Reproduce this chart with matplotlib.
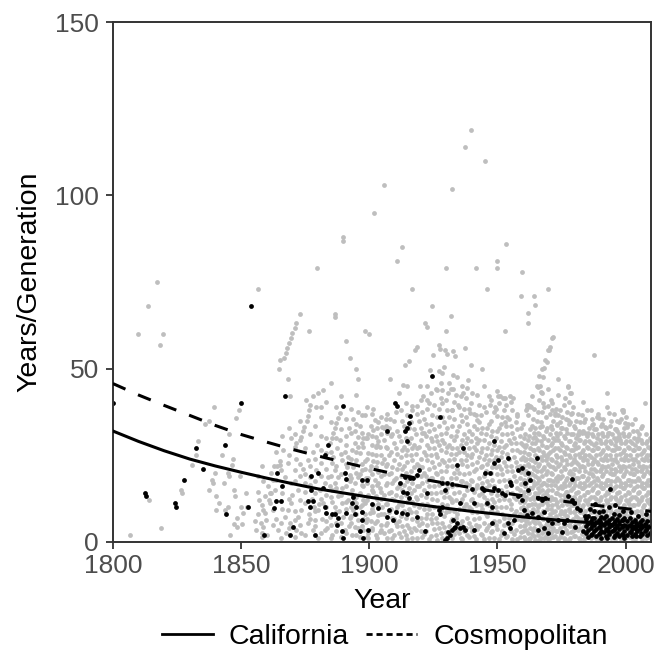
import matplotlib
matplotlib.use("Agg")
import matplotlib.pyplot as plt
from matplotlib.lines import Line2D

plt.rcParams['font.family'] = ['Liberation Sans', 'DejaVu Sans']

# ---- data ----
# sparse grey points (Cosmopolitan), (year, years/generation)
grey_sparse = [
    (1806.8, 2.0), (1809.9, 60.0), (1813.8, 68.0), (1813.9, 12.1), (1817.3, 75.0),
    (1818.4, 56.9), (1818.9, 4.0), (1819.6, 60.0), (1826.6, 15.0), (1826.8, 14.0),
    (1830.9, 22.1), (1832.4, 25.0), (1833.3, 29.0), (1835.9, 34.0), (1837.4, 35.0),
    (1837.5, 15.0), (1838.7, 18.0), (1838.9, 17.0), (1839.3, 38.9), (1839.8, 20.0),
    (1840.2, 9.1), (1840.4, 13.1), (1841.4, 11.1), (1842.4, 25.0), (1843.5, 17.1),
    (1843.8, 9.1), (1844.9, 10.0), (1845.0, 20.0), (1845.2, 19.0), (1845.4, 31.0),
    (1845.8, 2.0), (1846.6, 22.1), (1846.9, 24.0), (1847.3, 15.0), (1847.3, 5.1),
    (1847.5, 13.1), (1847.9, 35.9), (1848.6, 7.0), (1849.0, 38.0), (1849.5, 19.1),
    (1849.9, 10.0), (1850.5, 5.1), (1851.8, 14.1), (1856.5, 73.0), (1850.8, 8.4),
    (1852.2, 10.1), (1848.3, 4.3),
    (1879.6, 79.0), (1889.8, 88.0), (1889.8, 87.0), (1901.7, 95.0), (1905.6, 102.9),
    (1910.7, 81.0), (1912.8, 85.0), (1916.8, 73.0), (1929.8, 79.0), (1932.2, 101.9),
    (1937.2, 114.0), (1939.7, 119.0), (1941.8, 79.0), (1945.3, 110.0), (1945.8, 73.0),
    (1949.7, 81.0), (1949.7, 79.0), (1953.3, 86.0), (1959.4, 78.0), (1969.9, 73.0),
    # 1855-1905 streaks and scatter
    (1872.9, 65.9), (1886.8, 65.9), (1886.8, 64.9), (1871.6, 63.2), (1870.9, 61.7),
    (1870.0, 60.3), (1869.4, 58.8), (1868.7, 57.4), (1868.0, 55.9), (1867.4, 54.5),
    (1866.8, 53.1), (1876.5, 61.0), (1891.0, 58.0), (1898.3, 61.0), (1899.8, 60.0),
    (1892.4, 53.1), (1895.0, 50.0), (1895.7, 47.0), (1864.8, 50.0), (1868.3, 47.0),
    (1885.0, 46.0), (1865.2, 52.6), (1882.0, 43.9), (1880.0, 43.1), (1878.1, 42.0),
    (1869.0, 42.0), (1875.5, 41.0), (1879.4, 38.9), (1881.3, 38.9), (1876.5, 38.0),
    (1876.1, 36.2), (1875.9, 35.0), (1874.4, 33.3), (1874.2, 31.9), (1873.5, 30.4),
    (1872.9, 29.5), (1871.6, 28.5), (1870.9, 27.5), (1888.5, 37.2), (1887.9, 35.7),
    (1887.2, 34.3), (1886.6, 32.8), (1885.9, 31.4), (1885.3, 29.9), (1884.6, 28.5),
    (1883.3, 25.6),
    (1865.2, 23.2), (1863.9, 21.8), (1862.6, 17.9), (1861.3, 14.1), (1860.7, 12.1),
    (1859.4, 8.3), (1858.7, 4.4), (1858.1, 1.5),
    (1860.5, 16.0), (1861.8, 14.0), (1859.2, 13.1), (1863.1, 15.0), (1861.2, 11.1),
    (1858.6, 9.2), (1862.5, 9.2), (1859.9, 6.3), (1857.9, 5.4), (1856.0, 3.4),
    (1864.4, 3.4), (1865.7, 5.4), (1867.0, 7.3), (1868.3, 9.2), (1869.6, 11.1),
    (1869.0, 5.4), (1870.9, 6.3), (1872.2, 7.3), (1873.5, 9.2), (1874.8, 11.1),
    (1871.6, 3.4), (1873.5, 2.5), (1876.1, 5.4), (1878.7, 6.3), (1878.1, 3.4),
    (1880.0, 9.2), (1882.0, 11.1), (1880.7, 15.0), (1882.6, 16.9), (1883.9, 18.8),
    (1881.3, 22.7), (1879.4, 20.8), (1876.8, 18.8), (1874.8, 16.9), (1872.2, 15.0),
    (1869.6, 16.9), (1867.0, 18.8), (1865.7, 20.8), (1865.1, 22.2), (1868.3, 22.7),
    (1870.9, 20.8), (1885.3, 22.7), (1886.6, 20.8), (1887.9, 18.8), (1885.3, 15.0),
    (1887.9, 13.1), (1886.6, 10.2), (1889.2, 11.1), (1884.6, 7.3), (1887.2, 5.4),
    (1889.8, 7.3), (1890.5, 3.4), (1882.6, 3.4), (1885.3, 2.0), (1880.0, 1.0),
    (1865.7, 1.0),
    (1902.2, 35.2), (1903.5, 34.7), (1904.8, 33.3), (1901.5, 32.3), (1897.0, 31.4),
    (1895.7, 30.4), (1898.9, 29.9), (1902.8, 30.4), (1894.4, 28.5), (1897.6, 27.5),
    (1900.9, 28.0), (1904.1, 27.5), (1893.1, 26.6), (1896.3, 25.6), (1899.6, 25.6),
    (1902.8, 25.1), (1891.8, 24.6), (1895.0, 23.7), (1898.3, 23.2), (1901.5, 23.2),
    (1904.8, 22.7), (1893.7, 21.7), (1897.0, 20.8), (1900.2, 20.8), (1903.5, 20.3),
    (1892.4, 19.3), (1895.7, 18.8), (1898.9, 18.4), (1902.2, 17.9), (1894.4, 16.9),
    (1897.6, 16.0), (1900.9, 16.0), (1904.1, 15.5), (1893.1, 15.0), (1896.3, 14.0),
    (1899.6, 13.6), (1902.8, 13.1), (1891.8, 12.1), (1895.0, 11.1), (1898.3, 11.1),
    (1901.5, 10.7), (1904.8, 10.2), (1893.7, 9.2), (1897.0, 8.7), (1900.2, 8.3),
    (1903.5, 7.8), (1892.4, 6.8), (1895.7, 6.3), (1898.9, 5.8), (1902.2, 5.4),
    (1894.4, 4.4), (1897.6, 3.4), (1900.9, 3.4), (1904.1, 2.9), (1893.1, 2.0),
    (1896.3, 1.5), (1899.6, 1.0),
    (1877.5, 12.5), (1879.0, 14.0), (1880.5, 11.0), (1883.0, 13.5), (1884.5, 16.0),
    (1886.0, 24.5), (1887.5, 27.0), (1888.5, 29.5), (1889.5, 23.5), (1890.5, 26.0),
    (1891.0, 30.5), (1892.0, 33.0), (1893.5, 35.5), (1894.5, 32.0), (1895.5, 37.5),
    (1896.5, 33.5), (1897.5, 30.0), (1898.5, 36.5), (1899.5, 31.0), (1900.5, 33.5),
    (1901.5, 38.5), (1902.5, 27.5), (1903.5, 29.0), (1904.5, 36.0), (1891.5, 21.5),
    (1892.5, 17.5), (1893.5, 13.0), (1894.5, 22.5), (1895.5, 27.5), (1896.5, 19.5),
    (1897.5, 12.0), (1898.5, 21.0), (1899.5, 18.5), (1900.5, 22.0), (1901.5, 14.5),
    (1902.5, 21.5), (1903.5, 17.0), (1904.5, 12.5), (1891.0, 9.5), (1892.0, 4.5),
    (1893.0, 7.5), (1894.0, 12.5), (1895.5, 4.0), (1896.5, 10.0), (1897.5, 6.5),
    (1898.5, 8.0), (1899.5, 2.5), (1900.5, 6.0), (1901.5, 8.5), (1902.5, 2.0),
    (1903.5, 11.0), (1904.5, 5.0), (1874.0, 21.0), (1876.0, 23.5), (1878.0, 26.0),
    (1879.5, 28.0), (1881.0, 30.5), (1873.0, 19.0), (1871.5, 24.0), (1869.5, 30.0),
    (1866.5, 26.5), (1863.0, 22.0), (1861.5, 20.0), (1858.5, 17.5), (1857.0, 12.0),
    (1855.5, 6.0), (1860.0, 2.0), (1862.5, 5.0), (1867.5, 2.5), (1870.0, 13.5),
    (1876.5, 8.0), (1878.5, 10.0), (1881.5, 6.5), (1883.5, 4.0), (1885.5, 11.5),
    (1888.0, 9.0), (1889.5, 15.5), (1886.5, 17.0),
    # 1905-1958 upper
    (1924.4, 68.0), (1921.8, 63.2), (1922.4, 62.0), (1931.8, 65.1), (1929.8, 61.0),
    (1952.8, 61.0), (1917.9, 55.5), (1918.5, 56.4), (1927.0, 56.9), (1927.6, 55.7),
    (1929.6, 55.3), (1930.5, 54.3), (1932.8, 55.0), (1933.5, 53.8), (1937.4, 56.0),
    (1925.0, 54.0), (1915.3, 52.1), (1914.0, 51.1), (1923.7, 49.7), (1927.0, 49.2),
    (1928.3, 48.7), (1932.8, 48.2), (1908.1, 47.0), (1913.3, 45.3), (1914.6, 44.9),
    (1919.8, 44.9), (1922.4, 44.9), (1938.7, 46.8), (1911.4, 42.9), (1921.1, 42.0),
    (1926.3, 43.9), (1928.3, 43.9), (1930.9, 42.9), (1936.7, 42.9), (1951.1, 42.0),
    (1953.0, 41.5), (1955.0, 42.0), (1916.6, 39.1), (1918.5, 39.1), (1922.4, 41.0),
    (1928.3, 40.0), (1932.2, 38.1), (1934.8, 39.6), (1939.4, 37.2), (1947.2, 39.6),
    (1942.0, 35.2), (1949.8, 36.2), (1953.0, 34.7), (1957.6, 36.2), (1907.0, 37.0),
    (1908.0, 35.5), (1906.5, 33.5), (1944.0, 50.0), (1932.8, 44.0), (1949.0, 39.0),
    (1950.4, 42.0), (1952.3, 41.6), (1956.2, 41.6),
    # 1958-2010 upper
    (1964.1, 70.9), (1964.7, 68.5), (1962.1, 66.1), (1961.8, 63.2), (1971.2, 58.8),
    (1970.6, 56.2), (1969.9, 55.3), (1987.5, 54.0), (1968.6, 52.6), (1967.3, 50.0),
    (1973.8, 47.0), (1966.3, 48.0), (1977.7, 44.9), (1978.4, 42.9), (1965.4, 44.9),
    (1966.7, 44.9), (1967.3, 42.9), (1992.7, 42.9), (1963.4, 42.0), (1962.1, 39.6),
    (1961.5, 38.6), (1962.8, 39.1), (1969.9, 39.1), (1971.2, 38.1), (1972.5, 37.2),
    (1998.6, 38.1), (1993.4, 37.2), (1989.5, 35.7), (1979.0, 37.2), (1977.7, 35.2),
    (1974.5, 34.7), (1973.2, 33.8), (1986.8, 33.8), (1992.1, 33.3), (1993.4, 31.4),
    (1996.6, 31.9), (1997.3, 30.4), (2000.5, 33.3), (1999.9, 34.3), (1984.2, 31.4),
    (1981.6, 30.9), (1964.7, 30.4), (1966.7, 33.3), (1959.0, 71.0), (1971.5, 59.0),
    (1970.0, 55.5), (1969.5, 52.0), (1968.0, 50.3), (1967.6, 47.7), (1966.0, 44.8),
    (1966.8, 43.4), (1977.7, 44.8), (1978.5, 43.0), (1961.7, 39.6), (1962.9, 39.0),
    (1998.8, 38.0), (2007.7, 40.0),
]

# dense grey columns: (year, [values])
grey_early_cols = [
    (1856.5, [8.0, 14.5, 19.0]), (1858.0, [2.5, 10.5, 22.0]), (1863.5, [6.5, 18.0, 26.0]),
    (1866.0, [9.5, 14.0, 30.5]), (1868.5, [4.0, 12.5, 25.0, 33.0]),
    (1871.0, [1.5, 9.0, 17.5, 31.0]), (1873.0, [5.0, 12.0, 22.5, 35.0]),
    (1875.0, [2.0, 14.5, 19.5, 27.0]), (1877.0, [6.5, 16.5, 22.0, 31.0, 39.5]),
    (1879.0, [4.5, 9.0, 17.5, 24.0, 33.5]), (1881.0, [2.5, 12.5, 19.0, 26.5, 36.0]),
    (1883.0, [6.0, 10.0, 21.0, 30.0, 40.5]), (1885.0, [1.0, 5.0, 13.0, 19.0, 26.0, 34.5]),
    (1887.0, [3.0, 8.5, 15.5, 22.0, 30.0, 39.0]),
    (1889.0, [1.5, 5.5, 13.5, 19.5, 25.5, 32.5, 42.0]),
    (1891.0, [2.5, 11.5, 16.0, 22.5, 28.0, 35.5]),
    (1893.0, [5.5, 10.0, 18.5, 24.0, 31.5, 38.5]),
    (1895.0, [2.0, 8.0, 13.0, 20.0, 26.0, 34.0, 42.5]),
    (1897.0, [4.5, 10.5, 16.5, 22.5, 28.5, 36.5]),
    (1899.0, [1.5, 6.5, 12.0, 17.0, 24.0, 30.0, 39.0]),
    (1901.0, [4.0, 9.5, 15.0, 19.5, 25.5, 30.5, 37.0]),
    (1903.0, [1.0, 6.0, 12.5, 16.5, 23.0, 28.0, 33.0]),
    (1904.5, [3.5, 8.0, 14.5, 19.0, 25.0, 31.0]),
]

grey_mid_cols = [
    (1905.8, [2.5, 8.0, 13.5, 19.5, 24.0, 29.5, 33.0]),
    (1906.4, [5.0, 11.0, 16.5, 22.0, 27.5, 35.5]),
    (1907.0, [1.0, 5.5, 11.0, 17.0, 22.5, 27.0, 31.5]),
    (1907.7, [3.0, 8.5, 14.0, 19.5, 25.0, 33.0]),
    (1908.3, [3.5, 9.5, 14.5, 20.0, 26.0, 30.5]),
    (1909.0, [1.0, 7.0, 12.5, 17.0, 21.5, 31.0]),
    (1909.6, [2.0, 6.5, 12.0, 18.0, 23.5, 28.5, 35.0]),
    (1910.3, [5.5, 9.0, 13.5, 18.5, 27.0, 37.5]),
    (1910.9, [4.5, 10.0, 15.5, 21.0, 25.5, 32.0]),
    (1911.6, [2.5, 6.0, 11.0, 16.0, 22.5, 30.5]),
    (1912.2, [1.5, 7.5, 13.0, 19.0, 24.5, 29.0, 38.0]),
    (1912.9, [4.5, 10.5, 15.0, 21.0, 26.5, 35.0]),
    (1913.5, [3.0, 9.0, 16.5, 22.0, 27.5, 33.5]),
    (1914.2, [2.0, 7.0, 13.5, 20.0, 25.0, 30.0, 40.0]),
    (1914.8, [0.8, 5.0, 11.5, 17.5, 23.0, 26.5, 36.5]),
    (1915.5, [4.0, 9.5, 15.5, 19.0, 28.5, 33.0]),
    (1916.1, [2.8, 8.5, 14.0, 20.5, 25.0, 30.0, 34.5]),
    (1916.8, [1.0, 6.5, 11.5, 17.0, 23.5, 27.0, 38.0]),
    (1917.4, [4.0, 10.5, 15.0, 21.5, 28.0, 32.5]),
    (1918.1, [3.5, 8.5, 13.0, 19.0, 25.5, 31.0]),
    (1918.7, [1.2, 6.0, 12.5, 16.0, 22.5, 27.0, 37.0]),
    (1919.4, [5.0, 10.0, 16.0, 22.0, 27.5, 35.0]),
    (1920.0, [3.2, 7.0, 13.5, 19.0, 24.0, 29.5, 33.0, 41.0]),
    (1920.7, [1.5, 5.5, 11.0, 17.0, 21.5, 31.5, 37.5]),
    (1921.3, [2.2, 9.5, 15.0, 20.0, 26.0, 31.5, 35.5]),
    (1922.0, [3.0, 7.0, 13.0, 19.0, 25.0, 30.5, 34.0]),
    (1922.6, [4.8, 8.0, 11.0, 17.5, 23.5, 28.0, 38.5]),
    (1923.3, [0.9, 9.5, 16.0, 21.0, 27.0, 32.0, 40.0]),
    (1923.9, [1.8, 6.5, 14.0, 18.5, 25.0, 30.0, 34.0, 43.0]),
    (1924.6, [5.5, 8.0, 12.5, 18.5, 23.0, 29.0, 36.5]),
    (1925.2, [3.6, 10.0, 16.0, 21.5, 27.0, 32.5, 39.5]),
    (1925.9, [2.0, 7.0, 14.0, 20.0, 25.5, 30.5, 44.0]),
    (1926.5, [0.6, 5.5, 12.0, 19.5, 24.5, 29.0, 36.0]),
    (1927.2, [4.0, 10.0, 16.5, 22.5, 28.0, 33.5, 38.5]),
    (1927.8, [2.6, 8.8, 14.5, 20.5, 26.5, 31.0, 41.5, 46.0]),
    (1928.5, [1.0, 5.5, 11.0, 18.5, 23.5, 29.5, 36.0]),
    (1929.1, [4.2, 7.5, 13.0, 17.0, 23.0, 28.5, 34.5, 50.5]),
    (1929.8, [2.8, 8.5, 14.5, 20.5, 26.0, 31.5, 41.0]),
    (1930.4, [1.4, 10.5, 15.5, 22.0, 27.5, 33.0, 38.0]),
    (1931.1, [4.6, 9.0, 13.0, 17.0, 23.5, 28.0, 36.0, 46.0]),
    (1931.7, [3.4, 6.0, 12.5, 18.5, 25.5, 30.5, 44.0]),
    (1932.4, [1.2, 6.5, 11.5, 16.0, 22.0, 27.0, 33.5, 38.0]),
    (1933.0, [2.4, 9.0, 14.0, 20.0, 24.0, 29.5, 35.5, 40.5]),
    (1933.7, [3.5, 7.0, 12.0, 18.5, 25.5, 30.5, 42.5]),
    (1934.3, [4.6, 8.0, 16.5, 21.0, 27.0, 32.0, 47.5]),
    (1935.0, [2.5, 9.5, 14.5, 20.0, 26.0, 33.5, 39.0]),
    (1935.6, [1.0, 5.0, 11.5, 17.5, 23.5, 28.0, 36.5, 42.0]),
    (1936.3, [0.8, 6.0, 12.5, 17.5, 22.5, 29.5, 35.0, 45.0]),
    (1936.9, [3.0, 10.0, 13.5, 19.5, 26.0, 31.0, 38.5]),
    (1937.6, [4.0, 11.0, 17.0, 23.5, 28.5, 36.0, 41.5]),
    (1938.2, [2.0, 7.0, 15.0, 22.0, 25.0, 30.0, 34.0, 44.5]),
    (1938.9, [1.5, 5.5, 10.0, 16.5, 20.0, 27.0, 32.0, 38.5]),
    (1939.5, [4.4, 9.5, 12.0, 18.0, 24.5, 29.0, 40.0, 51.0]),
    (1940.2, [3.0, 8.5, 12.5, 17.5, 22.5, 25.5, 31.0, 43.0]),
    (1940.8, [1.6, 6.5, 14.5, 20.5, 27.5, 33.5, 37.0]),
    (1941.5, [0.8, 5.0, 10.5, 15.5, 21.0, 26.5, 30.0, 36.5]),
    (1942.1, [3.8, 8.5, 11.0, 16.5, 23.0, 28.5, 32.5, 42.5]),
    (1942.8, [4.5, 7.0, 13.5, 18.5, 24.5, 29.5, 34.5, 39.5]),
    (1943.4, [2.2, 10.5, 15.5, 21.5, 26.0, 31.5, 36.5]),
    (1944.1, [2.0, 9.5, 14.0, 17.0, 22.0, 27.0, 33.0]),
    (1944.7, [0.8, 5.5, 13.0, 19.0, 24.0, 29.5, 39.0, 45.0]),
    (1945.4, [3.5, 8.0, 11.0, 15.5, 20.5, 25.0, 31.0, 37.5]),
    (1946.0, [4.0, 7.5, 12.0, 17.5, 22.5, 27.0, 33.0]),
    (1946.7, [1.0, 5.0, 10.5, 16.5, 23.5, 28.5, 34.0, 42.0]),
    (1947.3, [2.8, 9.0, 14.0, 20.0, 25.5, 30.5, 35.0, 41.0]),
    (1948.0, [3.0, 8.5, 12.5, 18.0, 21.5, 26.5, 32.0]),
    (1948.6, [1.2, 6.0, 11.5, 16.0, 23.5, 28.0, 37.5]),
    (1949.3, [5.0, 10.0, 15.0, 21.5, 24.5, 30.0, 38.5]),
    (1949.9, [3.6, 8.5, 13.5, 19.5, 26.5, 32.0, 43.5]),
    (1950.6, [0.9, 6.0, 12.0, 17.5, 22.0, 27.5, 33.0, 40.0]),
    (1951.2, [2.0, 10.0, 15.0, 21.0, 24.5, 29.0, 34.0]),
    (1951.9, [3.0, 8.0, 13.5, 19.5, 26.0, 31.0, 36.0]),
    (1952.5, [4.8, 7.0, 12.5, 18.0, 23.0, 27.5, 38.0]),
    (1953.2, [1.5, 10.0, 16.0, 22.0, 28.0, 33.5, 39.5]),
    (1953.8, [1.6, 5.5, 14.5, 20.5, 25.5, 31.0, 36.0]),
    (1954.5, [4.5, 7.0, 12.0, 18.0, 24.0, 29.5, 35.5]),
    (1955.1, [3.2, 9.5, 11.0, 17.0, 22.0, 28.5, 33.5, 40.5]),
    (1955.8, [0.7, 5.5, 14.0, 20.5, 26.5, 31.5, 38.0]),
    (1956.4, [2.4, 8.0, 13.0, 19.0, 24.5, 30.0]),
    (1957.1, [3.5, 9.0, 12.5, 17.5, 23.0, 28.5, 34.5]),
    (1957.7, [0.9, 6.5, 15.5, 21.5, 26.5, 32.5, 37.0]),
]

grey_late_cols = [
    (1958.8, [1.5, 4.5, 8.0, 11.5, 15.0, 18.5, 22.0, 26.0, 30.5]),
    (1959.3, [2.8, 6.3, 9.8, 13.3, 16.8, 20.3, 24.0, 28.5, 33.0]),
    (1959.8, [3.0, 6.5, 10.0, 13.5, 17.0, 21.0, 24.5, 28.0, 34.0]),
    (1960.3, [1.5, 4.5, 7.8, 11.5, 14.5, 18.0, 21.8, 26.0, 30.0]),
    (1960.8, [0.8, 5.0, 9.0, 12.0, 16.0, 19.5, 23.5, 27.5, 31.0]),
    (1961.3, [3.5, 6.0, 9.5, 13.0, 17.0, 20.5, 24.0, 28.0, 38.0]),
    (1961.8, [2.5, 7.0, 10.5, 14.5, 18.0, 22.5, 25.5, 29.5, 36.5]),
    (1962.3, [0.9, 5.5, 10.5, 14.0, 18.5, 22.0, 25.5, 30.5]),
    (1962.8, [1.2, 4.0, 8.5, 12.5, 15.5, 20.0, 24.0, 27.0, 32.5]),
    (1963.3, [2.3, 7.5, 11.0, 15.5, 19.5, 23.5, 28.5, 33.5]),
    (1963.8, [3.5, 6.0, 9.5, 13.0, 17.5, 21.5, 26.5, 30.0, 35.5]),
    (1964.3, [1.6, 4.0, 8.5, 12.5, 16.5, 21.0, 26.5, 31.5, 38.5]),
    (1964.8, [0.6, 5.5, 11.0, 14.0, 19.0, 23.0, 25.0, 28.5, 33.0]),
    (1965.3, [3.0, 6.5, 9.0, 13.5, 17.0, 20.5, 24.5, 29.5, 35.0]),
    (1965.8, [2.0, 7.5, 10.0, 15.5, 18.5, 22.0, 27.0, 31.5, 37.5]),
    (1966.3, [0.6, 5.5, 10.5, 14.5, 18.0, 22.5, 26.5, 31.0, 41.0]),
    (1966.8, [1.0, 4.5, 8.0, 12.0, 16.5, 20.5, 24.5, 29.0, 34.5]),
    (1967.3, [2.5, 7.0, 11.0, 15.0, 19.0, 23.5, 28.0, 33.5, 37.5]),
    (1967.8, [3.2, 6.5, 9.0, 13.5, 17.0, 21.0, 26.0, 30.5, 40.0]),
    (1968.3, [1.2, 3.8, 8.5, 13.0, 17.0, 21.5, 25.0, 30.0, 39.0]),
    (1968.8, [1.8, 5.0, 11.5, 14.5, 19.5, 23.5, 27.5, 32.0, 36.0]),
    (1969.3, [2.8, 5.5, 9.5, 13.5, 16.5, 20.5, 24.5, 27.5, 33.0]),
    (1969.8, [0.7, 3.5, 7.0, 10.5, 15.0, 18.0, 22.5, 25.5, 29.5, 44.0]),
    (1970.3, [1.0, 4.5, 8.0, 12.0, 18.0, 22.0, 26.0, 31.0, 37.0]),
    (1970.8, [2.6, 6.0, 9.5, 13.0, 16.5, 20.0, 24.0, 28.0, 33.5, 41.0]),
    (1971.3, [3.0, 7.0, 10.5, 15.0, 19.5, 23.5, 28.5, 32.5, 40.0]),
    (1971.8, [1.4, 4.0, 8.5, 12.5, 17.5, 21.5, 26.5, 30.0, 35.0]),
    (1972.3, [1.8, 5.5, 9.0, 12.5, 16.5, 21.0, 27.0, 29.5, 36.5]),
    (1972.8, [3.0, 7.5, 11.0, 14.0, 18.5, 23.0, 25.0, 31.5, 38.5]),
    (1973.3, [3.2, 6.5, 11.5, 14.0, 17.5, 24.5, 30.5, 34.0]),
    (1973.8, [0.9, 5.5, 10.0, 15.5, 19.0, 22.0, 27.0, 29.5, 36.5, 42.5]),
    (1974.3, [1.4, 4.0, 8.0, 13.5, 18.5, 22.5, 26.5, 31.5, 38.0]),
    (1974.8, [2.2, 6.5, 9.0, 12.0, 16.0, 20.5, 24.5, 28.5, 33.0]),
    (1975.3, [2.8, 6.5, 10.5, 15.5, 19.0, 23.5, 28.0, 33.0, 36.0]),
    (1975.8, [1.1, 4.5, 8.0, 13.5, 17.0, 21.5, 26.0, 30.5, 39.5]),
    (1976.3, [0.8, 5.0, 9.0, 12.5, 16.0, 21.0, 25.5, 30.0, 41.5]),
    (1976.8, [3.4, 7.0, 11.5, 14.5, 18.0, 23.5, 27.5, 32.5, 35.5]),
    (1977.3, [2.5, 7.5, 11.0, 14.5, 18.5, 22.5, 27.0, 31.5, 37.5]),
    (1977.8, [0.5, 5.0, 9.5, 12.5, 16.5, 20.0, 25.0, 29.0, 34.0, 40.5]),
    (1978.3, [1.2, 4.5, 8.5, 13.0, 17.0, 20.5, 24.5, 29.0, 34.5]),
    (1978.8, [2.8, 6.0, 10.5, 15.0, 19.5, 22.5, 26.5, 31.0, 37.0]),
    (1979.3, [3.0, 6.5, 10.5, 15.5, 19.5, 23.0, 26.5, 31.0, 39.0]),
    (1979.8, [1.6, 4.0, 8.5, 13.0, 17.5, 21.0, 24.0, 28.0, 33.5]),
    (1980.3, [1.8, 5.0, 9.0, 12.5, 16.5, 21.0, 25.0, 28.5, 33.0]),
    (1980.8, [3.6, 7.5, 11.0, 14.0, 18.5, 23.0, 27.0, 30.0, 35.0]),
    (1981.3, [3.4, 7.0, 11.0, 14.5, 18.5, 22.5, 27.5, 31.0, 37.0]),
    (1981.8, [1.0, 5.5, 9.0, 12.0, 16.0, 20.5, 25.5, 29.5, 32.0]),
    (1982.3, [0.9, 4.0, 8.5, 13.0, 17.0, 21.5, 24.5, 29.5, 34.5]),
    (1982.8, [2.4, 6.5, 10.0, 15.5, 19.0, 22.0, 26.0, 31.5, 36.5]),
    (1983.3, [2.6, 6.0, 10.5, 15.5, 19.0, 23.5, 26.5, 32.0, 40.5]),
    (1983.8, [0.8, 4.5, 8.0, 13.5, 17.0, 21.5, 24.5, 28.5, 34.5]),
    (1984.3, [1.5, 5.5, 9.0, 12.0, 16.0, 20.5, 25.0, 29.0, 35.5]),
    (1984.8, [3.0, 7.0, 11.5, 14.5, 18.0, 23.5, 27.5, 30.5, 38.0]),
    (1985.3, [3.0, 7.5, 11.0, 14.5, 18.5, 22.5, 27.0, 31.5]),
    (1985.8, [1.3, 5.0, 9.5, 12.5, 16.5, 20.0, 25.0, 29.0, 33.0]),
    (1986.3, [1.0, 4.5, 8.5, 13.0, 17.0, 21.0, 24.5, 28.5, 38.0]),
    (1986.8, [2.6, 6.0, 10.5, 15.0, 19.5, 22.5, 26.5, 31.0, 35.5]),
    (1987.3, [2.4, 6.5, 10.5, 15.5, 19.0, 23.0, 26.5, 30.5, 34.0]),
    (1987.8, [1.7, 4.0, 8.5, 13.0, 17.5, 21.0, 24.0, 28.0, 32.5]),
    (1988.3, [1.2, 5.0, 9.0, 12.5, 16.5, 20.5, 25.0, 28.5, 32.5]),
    (1988.8, [3.3, 7.5, 11.0, 14.0, 18.5, 23.0, 27.0, 30.0, 36.0]),
    (1989.3, [3.2, 7.0, 11.0, 14.5, 18.0, 22.5, 27.0, 31.0, 37.0]),
    (1989.8, [0.9, 5.5, 9.0, 12.0, 16.0, 20.5, 25.5, 29.5]),
    (1990.3, [0.8, 4.0, 8.0, 13.0, 17.0, 21.0, 24.0, 28.5, 33.5]),
    (1990.8, [2.2, 6.5, 10.0, 15.5, 19.0, 22.0, 26.0, 31.5, 34.0]),
    (1991.3, [2.6, 6.5, 10.5, 15.5, 19.5, 23.5, 26.5, 30.5, 35.5]),
    (1991.8, [1.2, 4.5, 8.0, 13.5, 17.0, 21.5, 24.5, 28.5]),
    (1992.3, [1.4, 5.0, 9.0, 12.0, 16.5, 20.5, 25.0, 29.0, 33.0]),
    (1992.8, [3.1, 7.0, 11.5, 14.5, 18.0, 23.5, 27.5, 30.5, 39.0]),
    (1993.3, [3.0, 7.5, 11.0, 14.0, 18.0, 22.0, 27.0, 31.5]),
    (1993.8, [1.5, 5.0, 9.5, 12.5, 16.5, 20.0, 25.0, 29.0, 33.5]),
    (1994.3, [1.0, 4.5, 8.5, 13.0, 17.5, 21.0, 24.0, 28.5, 35.0]),
    (1994.8, [2.7, 6.0, 10.5, 15.0, 19.5, 22.5, 26.5, 31.0]),
    (1995.3, [2.4, 6.5, 10.5, 15.5, 19.5, 23.5, 26.5, 30.0, 37.0]),
    (1995.8, [0.8, 4.0, 8.5, 13.0, 17.5, 21.0, 24.0, 28.0, 32.5]),
    (1996.3, [1.6, 5.0, 9.0, 12.5, 16.0, 20.5, 25.0, 29.0, 32.5]),
    (1996.8, [3.4, 7.5, 11.0, 14.0, 18.5, 23.0, 27.0, 30.0, 35.0]),
    (1997.3, [3.2, 7.0, 11.5, 14.5, 18.0, 22.0, 27.0, 31.0, 34.5]),
    (1997.8, [1.9, 5.5, 9.0, 12.0, 16.0, 20.5, 25.5, 29.5]),
    (1998.3, [0.9, 4.0, 8.0, 13.0, 17.0, 21.0, 24.0, 28.5, 35.5]),
    (1998.8, [2.3, 6.5, 10.0, 15.5, 19.0, 22.0, 26.0, 31.5, 37.5]),
    (1999.3, [2.6, 6.5, 10.5, 15.5, 19.5, 23.5, 26.5, 30.5, 33.0]),
    (1999.8, [1.1, 4.5, 8.0, 13.5, 17.0, 21.5, 24.5, 28.5]),
    (2000.3, [1.4, 5.0, 9.0, 12.0, 16.5, 20.5, 25.0, 29.0, 36.0]),
    (2000.8, [3.0, 7.0, 11.5, 14.5, 18.0, 23.5, 27.5, 30.5, 34.0]),
    (2001.3, [3.0, 7.5, 11.0, 14.0, 18.0, 22.0, 27.0, 31.0]),
    (2001.8, [1.4, 5.0, 9.5, 12.5, 16.5, 20.0, 25.0, 29.0]),
    (2002.3, [1.0, 4.5, 8.5, 13.0, 17.5, 21.0, 24.0, 28.5, 34.0]),
    (2002.8, [2.5, 6.0, 10.5, 15.0, 19.5, 22.5, 26.5, 32.0]),
    (2003.3, [2.4, 6.5, 10.5, 15.5, 19.5, 23.5, 26.5, 30.0]),
    (2003.8, [0.7, 4.0, 8.5, 13.0, 17.5, 21.0, 24.0, 28.0, 35.5]),
    (2004.3, [1.6, 5.0, 9.0, 12.5, 16.0, 20.5, 25.0, 29.0, 32.0]),
    (2004.8, [3.2, 7.5, 11.0, 14.0, 18.5, 23.0, 27.0, 30.0]),
    (2005.3, [3.2, 7.0, 11.5, 14.5, 18.0, 22.0, 27.0, 31.0]),
    (2005.8, [1.8, 5.5, 9.0, 12.0, 16.0, 20.5, 25.5, 29.5, 33.0]),
    (2006.3, [0.9, 4.0, 8.0, 13.0, 17.0, 21.0, 24.0, 28.5, 33.5]),
    (2006.8, [2.1, 6.5, 10.0, 15.5, 19.0, 22.0, 26.0]),
    (2007.3, [2.6, 6.5, 10.5, 15.5, 19.5, 23.5, 26.5]),
    (2007.8, [1.0, 4.5, 8.0, 13.5, 17.0, 21.5, 24.5, 28.5, 31.0]),
    (2008.3, [1.4, 5.0, 9.0, 12.0, 16.5, 20.5, 25.0, 29.0]),
    (2008.8, [3.0, 7.0, 11.5, 14.5, 18.0, 23.5, 27.5]),
    (2009.3, [3.0, 7.5, 11.0, 14.0, 18.0, 22.0, 27.0]),
    (2009.6, [1.5, 5.0, 9.5, 12.5, 16.5, 20.0, 25.0, 30.0]),
]

# black points (California)
black_pts = [
    (1800.0, 40.1), (1812.6, 14.1), (1812.8, 13.1), (1824.2, 11.1), (1824.7, 10.0),
    (1827.9, 18.0), (1832.4, 27.0), (1835.3, 21.0), (1843.9, 27.9), (1844.0, 8.1),
    (1850.0, 40.1), (1852.7, 10.0), (1853.9, 68.0),
    (1867.0, 42.0), (1889.8, 39.1), (1884.0, 28.0), (1882.6, 25.1), (1864.0, 20.0),
    (1880.0, 19.8), (1877.4, 19.0), (1866.0, 16.0), (1877.4, 15.0), (1882.0, 15.5),
    (1890.5, 20.0), (1891.1, 18.1), (1897.0, 18.0), (1899.0, 18.0), (1863.8, 11.9),
    (1865.7, 11.9), (1876.1, 11.9), (1878.1, 11.9), (1876.8, 10.2), (1882.6, 10.0),
    (1893.7, 13.0), (1893.1, 11.2), (1895.0, 10.0), (1897.0, 8.7), (1883.3, 8.2),
    (1885.3, 8.1), (1886.8, 8.1), (1887.9, 6.8), (1891.1, 8.3), (1894.4, 8.1),
    (1900.9, 11.0), (1903.5, 9.7), (1862.9, 9.7), (1870.3, 4.2), (1869.0, 2.0),
    (1859.0, 2.0), (1887.6, 4.9), (1889.2, 3.2), (1889.8, 1.0), (1879.0, 2.0),
    (1897.0, 6.3), (1896.3, 3.2), (1899.6, 3.4), (1897.6, 1.0),
    (1924.4, 48.0), (1910.1, 40.0), (1910.7, 39.1), (1915.9, 36.2), (1915.3, 34.3),
    (1914.6, 32.8), (1914.0, 31.9), (1906.8, 32.1), (1927.4, 36.0), (1914.6, 29.0),
    (1936.7, 27.0), (1934.1, 22.2), (1948.5, 22.9), (1950.4, 23.7), (1954.3, 24.1),
    (1919.2, 20.8), (1918.5, 19.3), (1914.0, 18.7), (1915.9, 18.4), (1917.2, 18.4),
    (1912.0, 16.9), (1945.2, 19.8), (1947.2, 20.0), (1928.3, 16.9), (1930.2, 17.1),
    (1932.2, 16.7), (1929.6, 15.0), (1922.4, 14.2), (1913.3, 14.5), (1914.6, 14.0),
    (1915.3, 12.6), (1940.0, 15.3), (1943.9, 15.5), (1944.6, 15.0), (1948.5, 15.5),
    (1950.4, 15.0), (1955.0, 17.4), (1955.2, 16.4), (1951.7, 14.0), (1953.0, 13.6),
    (1945.9, 11.1), (1947.8, 10.2), (1927.0, 9.2), (1927.6, 8.1), (1928.3, 10.2),
    (1940.7, 11.3), (1935.4, 11.1), (1907.5, 9.2), (1910.4, 8.7), (1912.7, 8.3),
    (1914.6, 8.1), (1906.8, 7.1), (1909.4, 6.3), (1918.5, 7.3), (1932.8, 6.3),
    (1934.1, 5.4), (1933.5, 4.4), (1932.2, 3.4), (1931.5, 2.0), (1930.2, 1.0),
    (1929.6, 0.4), (1930.9, 2.9), (1933.1, 3.9), (1935.4, 3.9), (1937.4, 3.4),
    (1936.7, 4.4), (1940.7, 3.4), (1921.8, 3.2), (1955.0, 3.9), (1954.3, 5.4),
    (1956.3, 6.3), (1952.4, 2.5), (1947.8, 5.4), (1948.6, 29.0),
    (1965.4, 24.2), (1958.2, 20.8), (1959.5, 21.3), (1962.1, 19.8), (1962.8, 17.9),
    (1960.8, 16.9), (1962.1, 15.0), (1979.0, 18.1), (1994.0, 15.2), (1958.2, 13.1),
    (1959.5, 12.1), (1966.0, 12.6), (1967.3, 12.1), (1968.6, 12.6), (1977.7, 13.1),
    (1979.0, 12.1), (1979.7, 11.1), (1981.0, 9.7), (1982.3, 9.2), (1960.2, 9.2),
    (1961.5, 7.8), (1963.4, 8.3), (1966.0, 7.3), (1968.0, 8.7), (1969.9, 6.3),
    (1971.2, 5.4), (1973.8, 6.3), (1975.8, 5.4), (1977.1, 6.3), (1980.3, 4.4),
    (1966.0, 3.4), (1968.0, 3.9), (1969.9, 2.5), (1975.1, 2.9), (1985.5, 5.4),
    (1983.5, 3.0), (1984.0, 7.5), (1986.2, 9.5), (1988.0, 11.0), (1991.0, 9.0),
    (1992.7, 1.0), (1996.0, 10.5), (1999.0, 9.0), (2002.0, 8.5), (2005.0, 7.5),
    (2008.0, 8.0), (2009.8, 6.0),
]

black_late_cols = [
    (1984.5, [2.5, 4.5, 6.5]), (1985.5, [1.5, 3.5, 5.5, 7.5]), (1986.5, [2.0, 4.0, 6.0]),
    (1987.5, [3.0, 5.0, 7.0, 9.0]), (1988.5, [1.8, 3.8, 5.8]), (1989.5, [2.4, 4.4, 6.4, 8.5]),
    (1990.5, [1.2, 3.2, 5.2, 7.2]), (1991.5, [2.8, 4.8, 6.8]), (1992.5, [1.6, 3.6, 5.6, 7.6]),
    (1993.5, [2.2, 4.2, 6.2, 10.0]), (1994.5, [3.0, 5.0, 7.0]), (1995.5, [1.4, 3.4, 5.4, 8.0]),
    (1996.5, [2.6, 4.6, 6.6]), (1997.5, [1.8, 3.8, 5.8, 7.8]), (1998.5, [2.4, 4.4, 6.4]),
    (1999.5, [1.0, 3.0, 5.0, 7.0]), (2000.5, [2.0, 4.0, 6.0]), (2001.5, [2.8, 4.8, 6.8]),
    (2002.5, [1.6, 3.6, 5.6]), (2003.5, [2.2, 4.2, 6.2]), (2004.5, [3.0, 5.0]),
    (2005.5, [1.8, 3.8, 5.8]), (2006.5, [2.4, 4.4, 6.4]), (2007.5, [3.2, 5.2]),
    (2008.5, [2.0, 4.0, 6.0]), (2009.5, [2.6, 4.6]),
    (1987.0, [2.3, 4.8, 6.9]), (1990.0, [2.7, 4.3, 6.1]), (1993.0, [3.1, 5.3]),
    (1996.0, [1.9, 3.9, 5.9]), (1999.0, [2.1, 4.5, 6.2]), (2002.0, [2.9, 4.6]),
    (2004.0, [1.7, 3.6, 5.5]), (2006.0, [2.6, 4.9]), (2008.0, [3.4, 5.0]),
]

# fitted curves read at 10-year steps
fit_years = [1800, 1810, 1820, 1830, 1840, 1850, 1860, 1870, 1880, 1890, 1900,
             1910, 1920, 1930, 1940, 1950, 1960, 1970, 1980, 1990, 2000, 2010]
fit_california = [32.0, 29.0, 26.3, 23.9, 21.9, 20.1, 18.4, 16.8, 15.3, 14.1, 12.9,
                  11.8, 10.7, 9.7, 8.8, 8.0, 7.2, 6.5, 5.9, 5.3, 4.7, 4.2]
fit_cosmopolitan = [45.7, 42.4, 39.4, 36.5, 33.6, 31.0, 28.8, 26.7, 24.8, 23.0, 21.2,
                    19.6, 18.2, 16.9, 15.6, 14.4, 13.3, 12.3, 11.3, 10.4, 9.6, 8.8]


def flatten(pts, cols):
    xs = [p[0] for p in pts]
    ys = [p[1] for p in pts]
    for yr, vals in cols:
        xs += [yr] * len(vals)
        ys += vals
    return xs, ys


gx, gy = flatten(grey_sparse, grey_early_cols + grey_mid_cols + grey_late_cols)
bx, by = flatten(black_pts, black_late_cols)

fig = plt.figure(figsize=(6.68, 6.56), dpi=100)
ax = fig.add_axes([0.169, 0.174, 0.806, 0.792])

ax.scatter(gx, gy, s=12, color='#BEBEBE', linewidths=0, zorder=1)
ax.scatter(bx, by, s=12, color='black', linewidths=0, zorder=2)
ax.plot(fit_years, fit_california, color='black', lw=2.2, zorder=3)
ax.plot(fit_years, fit_cosmopolitan, color='black', lw=2.2, linestyle=(0, (4.5, 4.5)), zorder=3)

ax.set_xlim(1800, 2010)
ax.set_ylim(0, 150)
ax.set_xticks([1800, 1850, 1900, 1950, 2000])
ax.set_yticks([0, 50, 100, 150])
ax.tick_params(axis='both', labelsize=19, labelcolor='#4D4D4D', color='#333333',
               length=5, width=1.3)
ax.tick_params(axis='x', pad=4)
ax.tick_params(axis='y', pad=5)
for sp in ax.spines.values():
    sp.set_color('#333333')
    sp.set_linewidth(1.4)

ax.set_xlabel('Year', fontsize=20.5, labelpad=7)
ax.set_ylabel('Years/Generation', fontsize=20.5, labelpad=9)

handles = [Line2D([], [], color='black', lw=2.0),
           Line2D([], [], color='black', lw=2.0, linestyle=(0, (2.2, 1.4)))]
fig.legend(handles, ['California', 'Cosmopolitan'], loc='center',
           bbox_to_anchor=(0.576, 0.029), ncol=2, frameon=False, fontsize=20.5,
           handlelength=1.8, handletextpad=0.55, columnspacing=0.6,
           borderpad=0, borderaxespad=0)

fig.savefig('out.png', dpi=100)
